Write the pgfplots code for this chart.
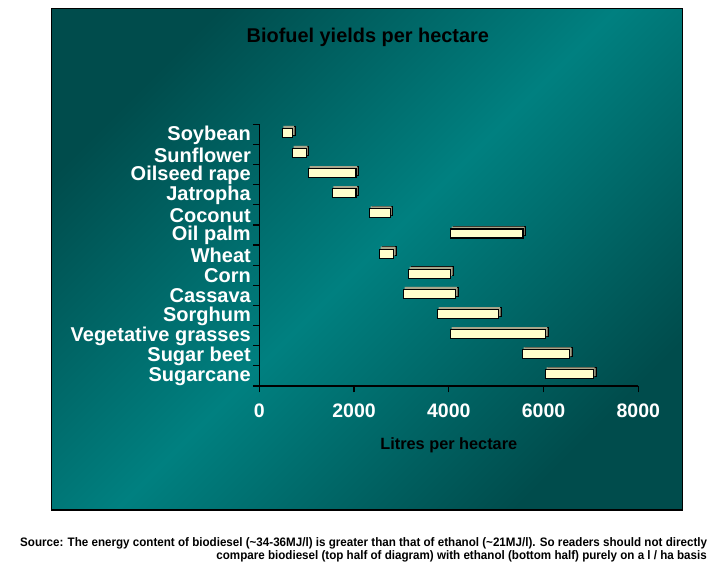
\documentclass[border=0pt]{standalone}
\usepackage{pgfplots}
\pgfplotsset{compat=1.18}
\usepackage{pgfplotstable}
\usepackage{graphicx}
\usepackage{fontspec}
\setmainfont{Liberation Sans}
\definecolor{tealdark}{RGB}{0,76,76}
\definecolor{tealmid}{RGB}{0,128,128}
\definecolor{barfront}{RGB}{255,255,204}
\definecolor{bartop}{RGB}{168,165,138}
\definecolor{barside}{RGB}{110,108,88}

\pgfplotstableread{
y start len
0 6040 1010
1 5555 1000
2 4035 2015
3 3760 1295
4 3040 1105
5 3145 900
6 2535 300
7 4035 1530
8 2325 435
9 1540 500
10 1035 1005
11 700 290
12 485 220
}\datatable

\pgfplotsset{layer/.style={
  at={(259.3bp,188bp)}, anchor=south west, scale only axis,
  width=379bp, height=261.7bp,
  xmin=0, xmax=8000, ymin=-0.5, ymax=12.5,
  clip=false, xbar stacked, bar width=9bp}}

\newcommand\srcstyle{\bfseries\fontsize{12.3bp}{14bp}\selectfont}
\newsavebox\srcA
\newsavebox\srcB

\begin{document}%
\sbox\srcA{\srcstyle Source: The energy content of biodiesel (\textasciitilde 34-36MJ/l) is greater than that of ethanol (\textasciitilde 21MJ/l). So readers should not directly}%
\sbox\srcB{\srcstyle compare biodiesel (top half of diagram) with ethanol (bottom half) purely on a l / ha basis}%
\pgfmathsetmacro\sfac{689.44/(\wd\srcA/1pt)}%
\begin{tikzpicture}[x=1bp,y=1bp]
\shade[top color=tealdark, bottom color=tealdark, middle color=tealmid, shading angle=45] (51.5,64) rectangle (682.5,565.7);
\draw[black, line width=1.2bp] (51.5,64) rectangle (682.5,565.7);
\node[anchor=base, inner sep=0, font=\bfseries\fontsize{19.9bp}{22bp}\selectfont, text=black] at (367.8,531.3) {Biofuel yields per hectare};
% back (side) layer
\begin{axis}[layer, hide axis]
\addplot[draw=none, fill=none] table[x=start,y=y]{\datatable};
\addplot[fill=barside, draw=black, line width=0.6bp, xshift=2.5bp, yshift=4bp] table[x=len,y=y]{\datatable};
\end{axis}
% top layer
\begin{axis}[layer, hide axis]
\addplot[draw=none, fill=none] table[x=start,y=y]{\datatable};
\addplot[fill=bartop, draw=none, xshift=1.2bp, yshift=4bp] table[x=len,y=y]{\datatable};
\end{axis}
% front layer with axes
\begin{axis}[layer,
  axis lines*=left,
  axis line style={black, line width=1.3bp},
  xtick={0,2000,4000,6000,8000},
  ytick={0,...,12},
  yticklabels={Sugarcane,Sugar beet,Vegetative grasses,Sorghum,Cassava,Corn,Wheat\ ,Oil palm,Coconut,Jatropha,Oilseed rape,Sunflower,Soybean},
  tick align=outside,
  major tick length=6.5bp,
  tick style={black, line width=1.2bp},
  ytick style={draw=none},
  extra y ticks={-0.5,0.5,1.5,2.5,3.5,4.5,5.5,6.5,7.5,8.5,9.5,10.5,11.5,12.5},
  extra y tick labels={},
  extra y tick style={ytick style={draw=black}},
  tick label style={font=\bfseries\fontsize{19.5bp}{20bp}\selectfont, text=white},
  yticklabel style={xshift=1.5bp, font=\bfseries\fontsize{20bp}{20bp}\selectfont, yshift=-0.5bp},
  xticklabel style={yshift=-7.5bp},
  /pgf/number format/assume math mode=true,
  /pgf/number format/1000 sep={},
  xlabel={Litres per hectare},
  xlabel style={at={(axis description cs:0.5,0)}, anchor=base, yshift=-64bp, font=\bfseries\fontsize{16.3bp}{18bp}\selectfont, text=black},
]
\addplot[draw=none, fill=none] table[x=start,y=y]{\datatable};
\addplot[fill=barfront, draw=black, line width=1.1bp, yshift=1.5bp] table[x=len,y=y]{\datatable};
\end{axis}
\node[anchor=base west, inner sep=0] at (20,27.7) {\scalebox{\sfac}[1]{\usebox\srcA}};
\node[anchor=base east, inner sep=0] at (707,14.3) {\scalebox{\sfac}[1]{\usebox\srcB}};
\pgfresetboundingbox
\path[use as bounding box] (0,0) rectangle (716,574);
\end{tikzpicture}%
\end{document}
